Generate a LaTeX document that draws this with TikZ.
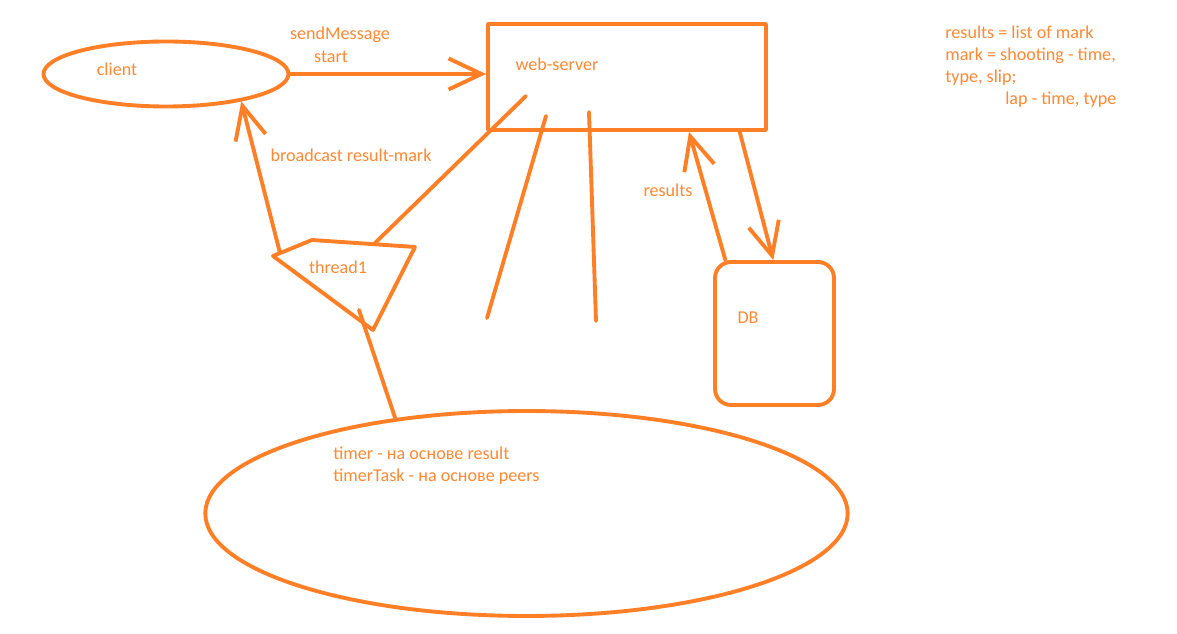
\documentclass[tikz,border=0pt]{standalone}
\usepackage{fontspec}
\setmainfont{Carlito}
\usetikzlibrary{positioning,shapes.geometric,arrows.meta,calc}
\definecolor{paintorange}{RGB}{255,127,39}
\definecolor{inkorange}{RGB}{255,137,52}

\begin{document}
\begin{tikzpicture}[x=0.02cm, y=-0.02cm,
                      line join=round,
                      every node/.style = {text=inkorange, inner sep=0pt,
                        font=\fontsize{10.3}{12.4}\selectfont},
                      shapebox/.style = {draw=paintorange, line width=2.2pt},
                      lbl/.style = {align=left},
                      wire/.style = {draw=paintorange, line width=2.2pt, line cap=round},
                      arr/.style = {wire, -{Straight Barb[length=0.66cm, width=0.62cm]}}]
  \fill[white] (0,0) rectangle (1177,634);
  \useasboundingbox (0,0) rectangle (1177,634);

  % the boxes
  \node[shapebox, ellipse, minimum width=4.9cm, minimum height=1.3cm] (client) at (166,74) {};
  \node[shapebox, rectangle, minimum width=5.56cm, minimum height=2.12cm] (ws) at (627,77) {};
  \node[shapebox, rectangle, rounded corners=0.32cm,
        minimum width=2.38cm, minimum height=2.86cm] (db) at (774.5,333.5) {};
  \node[shapebox, ellipse, minimum width=12.85cm, minimum height=4.1cm] (timer) at (526.5,513.5) {};

  % thread1
  \coordinate (t1a) at (273,256);
  \coordinate (t1b) at (312,240);
  \coordinate (t1c) at (415,247);
  \coordinate (t1d) at (373,330);
  \draw[wire] (t1a) -- (t1b) -- (t1c) -- (t1d) -- cycle;

  % texts
  \node (clienttxt) at (117,69) {client};
  \node (sendtxt) at (340,35) {sendMessage};
  \node (starttxt) at (331,57) {start};
  \node (wstxt) at (557,64) {web-server};
  \node (bcasttxt) at (351,155) {broadcast result-mark};
  \node (threadtxt) at (338,267) {thread1};
  \node (resulttxt) at (668,190) {results};
  \node (dbtxt) at (748,318) {DB};
  \node[lbl, anchor=west] (timertxt) at (333,466)
    {timer - на основе result\\timerTask - на основе peers};
  \node[lbl, anchor=north west] (modeltxt) at (945,26)
    {results = list of mark\\mark = shooting - time,\\type, slip;\\
     \hspace*{1.2cm}lap - time, type};

  % connectors
  \draw[arr] (client.east) -- (ws.west |- client.east);
  \coordinate (t1top) at (375,243);
  \coordinate (wsin) at (526,96);
  \draw[wire] (t1top) -- (wsin);
  \coordinate (t1left) at (280,253);
  \draw[arr] (t1left) -- (client.-20);
  \coordinate (t1low) at (359,310);
  \draw[wire] (t1low) -- (timer.144);
  \draw[arr] ($(db.north west)!0.1!(db.north east)$) -- ($(ws.south west)!0.72!(ws.south east)$);
  \draw[arr] ($(ws.south west)!0.9!(ws.south east)$) -- ($(db.north west)!0.49!(db.north east)$);

  % loose strokes under the server
  \coordinate (stubatop) at (546,116);
  \coordinate (stubabot) at (487,318);
  \coordinate (stubbtop) at (589,112);
  \coordinate (stubbbot) at (596,321);
  \draw[wire] (stubatop) -- (stubabot);
  \draw[wire] (stubbtop) -- (stubbbot);
\end{tikzpicture}
\end{document}
